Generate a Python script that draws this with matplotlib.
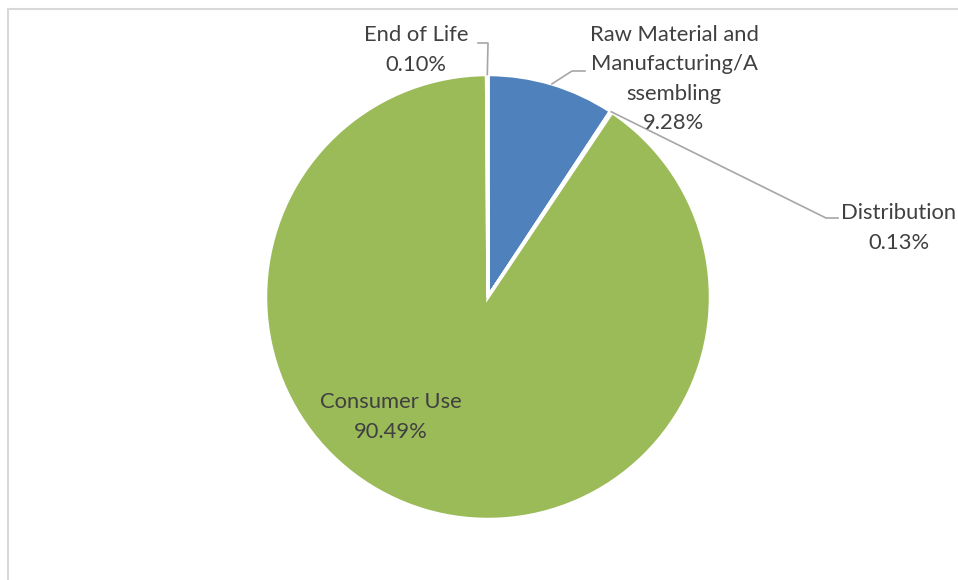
import matplotlib.pyplot as plt
import numpy as np
from matplotlib.patches import Rectangle

stages = ["Raw Material and\nManufacturing/A\nssembling", "Distribution", "Consumer Use", "End of Life"]
shares = [9.28, 0.13, 90.49, 0.10]
colors = ["#4F81BD", "#C0504D", "#9BBB59", "#8064A2"]

W, H = 958, 580
fig = plt.figure(figsize=(W / 100, H / 100), dpi=100)
fig.patch.set_facecolor("white")

# chart frame (only top and left edges show in the crop)
fig.patches.append(Rectangle((7.5 / W, -0.1), 1.2, (H - 9) / H + 0.1, transform=fig.transFigure,
                             fill=False, edgecolor="#D9D9D9", linewidth=1.5))

ax = fig.add_axes([0, 0, 1, 1])

cx, cy, r = 488, H - 297, 222.5
wedges, _ = ax.pie(shares, colors=colors, startangle=90, counterclock=False,
                   center=(cx, cy), radius=r, frame=True,
                   wedgeprops=dict(edgecolor="white", linewidth=2.5))
ax.set_xlim(0, W)
ax.set_ylim(0, H)
ax.set_aspect("equal")
ax.axis("off")

txt = dict(fontsize=15.8, color="#404040", family="Lato", ha="center", va="center",
           linespacing=1.6)
line = dict(color="#A6A6A6", linewidth=1.2)


def anchor(w):
    a = np.deg2rad((w.theta1 + w.theta2) / 2)
    return cx + r * np.cos(a), cy + r * np.sin(a)


# label positions (pixels from top) and leader elbows
labels = [
    (674, 79, [(572, 71), (585, 71)]),
    (899, 228, [(826, 218), (838, 218)]),
    (391, 417, None),
    (416, 50, [(488, 43), (478, 43)]),
]
for w, name, v, (lx, ly, elbow) in zip(wedges, stages, shares, labels):
    ax.text(lx, H - ly, f"{name}\n{v:.2f}%", **txt)
    if elbow:
        x0, y0 = anchor(w)
        xs = [x0] + [p[0] for p in elbow]
        ys = [y0] + [H - p[1] for p in elbow]
        ax.plot(xs, ys, **line)

fig.savefig("out.png", dpi=100)
